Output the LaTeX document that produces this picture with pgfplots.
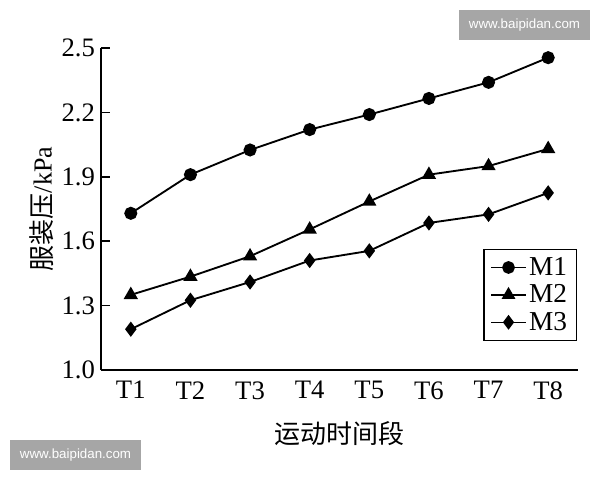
\documentclass[border=0pt]{standalone}
\usepackage{pgfplots}
\pgfplotsset{compat=1.18}
\usepackage{fontspec}
\setmainfont{Liberation Serif}
\newfontfamily\cjk{Noto Sans CJK SC}
\newfontfamily\wm{Liberation Sans}
\begin{document}
\begin{tikzpicture}
\begin{axis}[
  scale only axis,
  width=357.75pt, height=241.5pt,
  xmin=0.5, xmax=8.5, ymin=1.0, ymax=2.5,
  axis x line*=bottom, axis y line*=left,
  axis line style={line width=1.4pt},
  xtick={1,...,8},
  xticklabels={T1,T2,T3,T4,T5,T6,T7,T8},
  xtick style={draw=none},
  minor xtick={1.5,2.5,...,8.5},
  minor tick length=7pt,
  minor x tick style={line width=1.2pt, black},
  ytick={1.0,1.3,1.6,1.9,2.2,2.5},
  yticklabels={1.0,1.3,1.6,1.9,2.2,2.5},
  major tick length=7pt,
  ytick style={line width=1.2pt, black},
  tick align=inside,
  ticklabel style={font=\fontsize{20}{23}\selectfont},
  xticklabel style={yshift=-5pt},
  yticklabel style={xshift=-1pt},
  xlabel={\cjk 运动时间段},
  ylabel={{\cjk 服装压}/kPa},
  label style={font=\fontsize{19.5}{23}\selectfont},
  xlabel style={yshift=-10pt},
  ylabel style={yshift=-1pt},
  legend style={at={(0.998,0.09)}, anchor=south east, draw=black, line width=1pt,
    font=\fontsize{20.5}{23}\selectfont, row sep=1.5pt, inner xsep=5pt, inner ysep=4pt},
  legend cell align=left,
  legend image code/.code={
    \draw[mark repeat=2, mark phase=2, #1] plot coordinates {(0cm,0cm) (0.45cm,0cm) (0.9cm,0cm)};},
  legend image post style={line width=1.2pt},
]
\addplot[black, line width=1.4pt, mark=*, mark size=4.2pt] coordinates {
(1,1.73) (2,1.91) (3,2.025) (4,2.12) (5,2.19) (6,2.265) (7,2.34) (8,2.455)};
\addplot[black, line width=1.4pt, mark=triangle*, mark size=4.8pt] coordinates {
(1,1.35) (2,1.435) (3,1.53) (4,1.655) (5,1.785) (6,1.91) (7,1.95) (8,2.03)};
\addplot[black, line width=1.4pt, mark=diamond*, mark size=4.6pt] coordinates {
(1,1.19) (2,1.325) (3,1.41) (4,1.51) (5,1.555) (6,1.685) (7,1.725) (8,1.825)};
\legend{M1,M2,M3}
\end{axis}
\node[fill=black!35, minimum width=98.25pt, minimum height=22.5pt, text=white, font=\wm\fontsize{10}{12}\selectfont, inner sep=0pt] at (317.6pt,258.75pt) {www.baipidan.com};
\node[fill=black!35, minimum width=98.25pt, minimum height=22.5pt, text=white, font=\wm\fontsize{10}{12}\selectfont, inner sep=0pt] at (-19.1pt,-63.75pt) {www.baipidan.com};
\path[use as bounding box] (-75.75pt,-82.5pt) rectangle (374.25pt,277.5pt);
\end{tikzpicture}
\end{document}
